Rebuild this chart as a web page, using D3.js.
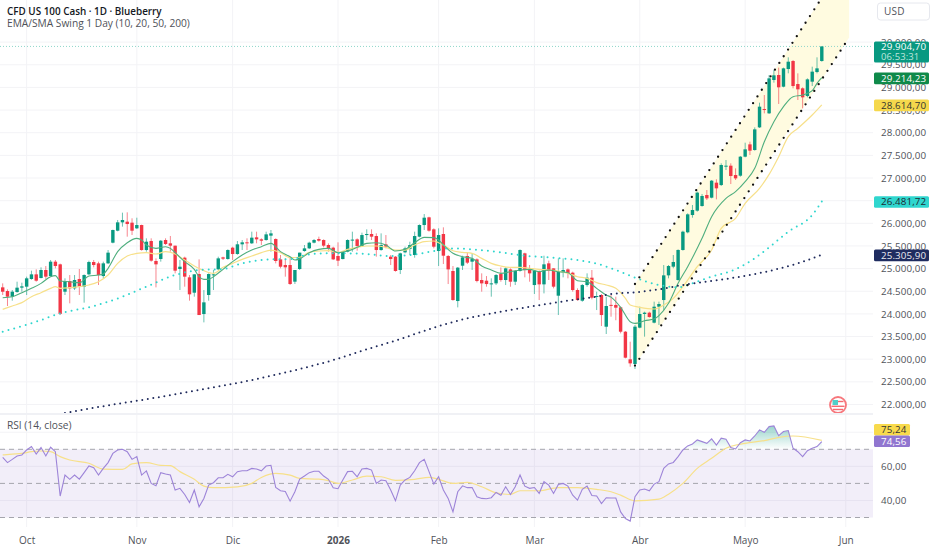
<!DOCTYPE html>
<html>
<head>
<meta charset="utf-8">
<script src="https://cdn.jsdelivr.net/npm/d3@7"></script>
<style>
  html, body { margin: 0; padding: 0; background: #fff; overflow: hidden; }
  svg { display: block; font-family: "Open Sans", sans-serif; }
</style>
</head>
<body>
<svg id="chart" width="932" height="550"></svg>
<script>
// [open, high, low, close] per daily bar
const candles = [
  [24586,24674,24417,24490],[24505,24542,24174,24380],[24380,24527,24292,24490],[24483,24711,24468,24579],
  [24579,24689,24490,24608],[24601,24822,24417,24785],[24770,24954,24755,24873],[24873,24983,24711,24733],
  [24792,25028,24785,24969],[24969,25057,24770,24822],[24836,25190,24822,25153],[25153,25190,25006,25057],
  [25094,25110,23975,24000],[24490,24785,24417,24726],[24726,24858,24233,24564],[24564,24858,24527,24748],
  [24770,24991,24417,24601],[24601,24873,24248,24858],[24873,25175,24858,25145],[25145,25190,25028,25079],
  [25116,25153,24638,24858],[24836,25153,24785,25116],[25116,25410,25101,25352],[25572,25860,25558,25852],
  [25837,26073,25823,26021],[26021,26235,25926,26073],[26036,26242,25705,25984],[26014,26110,25742,25837],
  [25889,26124,25874,25962],[25962,25970,25396,25410],[25410,25668,25374,25594],[25609,25668,25153,25175],
  [25168,25226,24586,25094],[25212,25631,25153,25616],[25631,25668,25521,25543],[25558,25720,25374,25506],
  [25506,25506,24895,24954],[24991,25190,24527,25042],[25241,25263,24601,24822],[24807,24858,24292,24432],
  [24468,24880,24380,24873],[24880,25204,23975,23975],[23997,24527,23813,24255],[24417,24895,24292,24880],
  [24858,24969,24527,24873],[24984,25263,24969,25226],[25248,25263,25190,25219],[25212,25425,25197,25410],
  [25462,25484,25190,25322],[25322,25609,25307,25536],[25536,25631,25410,25580],[25580,25668,25410,25558],
  [25558,25815,25543,25683],[25690,25815,25558,25646],[25646,25668,25521,25616],[25631,25815,25616,25756],
  [25727,25852,25374,25778],[25653,25668,25116,25168],[25204,25300,25006,25042],[25079,25226,24822,25028],
  [25079,25248,24638,24660],[24711,24969,24660,24969],[24991,25352,24969,25352],[25388,25521,25374,25447],
  [25447,25594,25433,25572],[25572,25653,25557,25631],[25653,25705,25594,25616],[25631,25646,25469,25506],
  [25521,25557,25373,25447],[25462,25484,25189,25204],[25278,25580,25057,25175],[25211,25388,25204,25373],
  [25373,25646,25359,25631],[25620,25815,25373,25640],[25646,25668,25395,25499],[25499,25793,25484,25741],
  [25741,25867,25631,25764],[25764,25867,25631,25705],[25719,25778,25263,25410],[25410,25778,25395,25521],
  [25535,25741,25447,25484],[25263,25300,25079,25211],[25263,25278,24932,24947],[24969,25351,24880,25337],
  [25359,25484,25337,25447],[25432,25594,25300,25521],[25300,25815,25241,25719],[25705,25977,25690,25962],
  [25962,26205,25852,26124],[26132,26146,25815,25837],[25867,25889,25447,25484],[25388,25889,25057,25741],
  [25764,25911,25101,25285],[25278,25300,24659,24983],[24947,25057,24291,24306],[24284,25035,24144,25021],
  [25064,25285,24969,25248],[25278,25351,25101,25131],[25153,25337,24969,25211],[25204,25226,24696,24726],
  [24748,24895,24490,24674],[24733,24836,24601,24659],[24659,24785,24380,24674],[24674,24880,24637,24858],
  [24880,25027,24711,24748],[24748,25027,24637,25005],[24983,25005,24600,24711],[24711,24969,24637,24947],
  [24947,25425,24932,25410],[25337,25351,24807,24969],[24969,25079,24711,24895],[24637,24969,24439,24954],
  [24947,24960,24306,24652],[24652,25285,24453,25094],[25116,25175,24748,24947],[25005,25005,24564,24601],
  [24402,25226,23975,24925],[24917,25226,24807,24969],[24983,25005,24785,24902],[24910,24932,24490,24527],
  [24527,24564,24291,24306],[24291,24659,24269,24637],[24637,24895,24600,24799],[24799,24969,24321,24358],
  [24380,24490,24085,24395],[24417,24439,23732,23975],[23717,24380,23556,24174],[24199,24417,23938,24185],
  [24197,24380,23860,24137],[24145,24160,23570,23607],[23607,23622,23018,23033],[22997,23386,22834,22908],
  [22894,23755,22783,23718],[23696,24160,23681,23998],[23998,24049,23497,24027],[24027,24049,23917,23931],
  [23806,24270,23791,24159],[24159,24270,23755,24218],[24306,25079,24085,24851],[24851,25079,24785,25057],
  [25043,25300,25006,25146],[24748,25425,24733,25411],[25411,25837,25396,25815],[25801,26220,25779,26198],
  [26183,26404,26124,26294],[26279,26699,26257,26677],[26382,26647,26367,26603],[26625,26735,26515,26551],
  [26566,26956,26551,26941],[26897,26971,26529,26772],[26845,27324,26823,27287],[27258,27397,27176,27272],
  [27272,27324,26867,27044],[27066,27213,26956,26992],[27051,27486,27029,27471],[27471,27780,27456,27633],
  [27743,27802,27508,27603],[27618,28118,27603,28074],[28118,28663,28104,28575],[28523,28832,28427,28501],
  [28428,29274,28413,29200],[29164,29384,29105,29267],[29274,29436,28634,29002],[29016,29436,29002,29421],
  [29406,29664,29311,29568],[29583,29605,28980,29031],[29075,29311,28722,28958],[28980,29002,28538,28781],
  [28810,29200,28781,29178],[29127,29458,29031,29348],[29340,29664,29311,29421],[29583,29905,29568,29905]
];

// [bar, value] samples of the moving averages
const ema10 = [[0,24358],[2,24380],[4,24468],[6,24564],[8,24674],[10,24822],[11,24844],[12,24726],[14,24711],[16,24689],[18,24836],[20,24858],[21,24880],[22,25006],[24,25374],[26,25572],[28,25668],[29,25631],[30,25521],[32,25447],[34,25484],[35,25447],[36,25352],[38,25153],[40,24984],[41,24822],[42,24763],[43,24763],[44,24822],[46,24984],[48,25153],[50,25300],[52,25410],[54,25484],[56,25558],[58,25374],[60,25263],[61,25190],[62,25215],[64,25351],[66,25425],[68,25447],[70,25351],[72,25388],[74,25469],[76,25557],[78,25572],[80,25521],[82,25388],[84,25425],[86,25572],[88,25690],[90,25683],[91,25631],[92,25521],[94,25337],[96,25263],[98,25226],[100,25057],[102,24969],[104,24895],[106,24932],[108,24969],[110,24983],[112,24932],[114,24969],[116,24932],[118,24910],[120,24733],[122,24711],[124,24564],[126,24417],[127,24370],[129,24145],[131,23828],[132,23791],[134,23850],[136,23887],[137,23961],[139,24233],[141,24675],[143,25043],[146,25668],[148,26147],[151,26551],[153,26699],[155,26919],[157,27213],[159,27802],[161,28244],[163,28575],[165,28796],[167,28832],[169,28928],[170,29090],[171,29214]];
const ema20 = [[0,24100],[2,24174],[4,24248],[6,24380],[8,24468],[10,24564],[11,24601],[12,24564],[14,24579],[16,24601],[18,24638],[20,24711],[22,24858],[24,25116],[26,25278],[28,25337],[30,25352],[32,25322],[34,25374],[36,25322],[38,25190],[40,25057],[42,24954],[44,24895],[46,25028],[48,25116],[50,25204],[52,25278],[54,25352],[56,25410],[58,25352],[60,25241],[62,25250],[64,25359],[66,25388],[68,25395],[70,25359],[72,25425],[74,25469],[76,25499],[78,25499],[80,25469],[82,25410],[84,25410],[86,25521],[88,25594],[90,25609],[91,25572],[92,25521],[94,25395],[96,25359],[98,25337],[100,25226],[102,25116],[104,25057],[106,25027],[108,25027],[110,25005],[112,24983],[114,24969],[116,24947],[118,24895],[120,24821],[122,24785],[124,24689],[126,24638],[128,24564],[130,24343],[131,24196],[133,24145],[136,24108],[138,24196],[140,24343],[142,24601],[145,25043],[148,25411],[150,25889],[153,26110],[155,26441],[158,26772],[160,27080],[162,27471],[164,27912],[166,28096],[169,28391],[171,28615]];
const ema50 = [[0,23607],[7,23828],[12,24012],[19,24174],[25,24380],[30,24601],[36,24858],[41,24969],[46,24991],[50,25116],[56,25204],[61,25212],[62,25263],[67,25337],[71,25337],[76,25322],[81,25278],[85,25300],[90,25388],[93,25447],[98,25425],[104,25359],[109,25285],[115,25241],[120,25189],[125,25079],[128,24969],[132,24800],[137,24638],[141,24586],[144,24675],[148,24822],[153,24984],[157,25227],[160,25470],[164,25815],[169,26183],[171,26482]];
const sma200 = [[13,21811],[20,21944],[29,22098],[41,22319],[52,22540],[62,22783],[69,22981],[76,23217],[83,23445],[90,23695],[97,23901],[104,24049],[111,24174],[118,24291],[124,24380],[127,24439],[132,24476],[137,24542],[142,24638],[147,24711],[154,24822],[160,24947],[166,25116],[171,25306]];

const rsi = [65.3,62.2,64.1,66.1,66.7,69.6,71.6,67.2,71,66.1,71.2,68.6,42.6,54.9,52.4,54.9,52.5,56.3,60.2,59.2,54.9,58.8,62.2,67.6,69.6,70,68.6,64.1,65.7,54.9,57.3,50,48.6,56.3,55.5,54.9,46.1,47.1,43.5,38.8,46.1,36.3,41.2,49,50.4,53.3,53.3,55.3,53.9,56.9,57.4,57.4,58.8,58.4,57.4,60.2,60.6,47.6,45.7,45.3,39.6,45.1,52.5,54.3,56.3,57.1,57.1,54.3,52.4,47.5,46.9,52,56.9,57.1,53.9,58.4,58.8,57.8,50,52,51.6,46.1,39.8,49,52,53.5,57.4,62.2,64.1,56.9,49.6,53.9,46.1,41.2,33.3,45.1,48.6,47.5,47.6,42.2,41.2,41,41.6,44.7,43.1,48,43.5,48,54.9,48.4,47.1,47.6,44.1,51,49,44.1,49.4,50,48.4,43.1,40.2,46.5,48.4,42.9,42.6,38.2,41.6,41.4,41.4,33.3,29.4,27.9,42.2,46.1,46.7,45.7,49.6,51,58.8,61.4,62.3,65.7,69.6,72,73.1,75.5,74.5,73.5,76.1,72.5,76.5,75.9,71,70.2,73.9,75.5,74.9,77.8,81.4,80,83.3,83.7,78,80.4,81,70.6,68.6,65.7,69.2,70.6,71.6,74.56];
const rsiMa = [[0,66.7],[2,67.2],[4,67.6],[6,68.6],[8,69],[10,68.6],[12,65.7],[14,63.7],[18,61.8],[21,58.4],[25,58.2],[27,61.4],[30,62.2],[33,60.6],[35,60.4],[37,56.9],[40,52.4],[42,48.4],[44,47.5],[49,48],[52,50],[54,53.5],[57,55.9],[60,54.9],[62,52.9],[66,52.5],[68,51.6],[70,50],[73,52],[76,54.3],[79,53.9],[82,51.8],[86,52.4],[89,53.5],[91,52.4],[94,50],[97,50.6],[100,48],[103,44.5],[106,43.5],[108,45.7],[112,45.7],[116,47.5],[120,47.5],[124,46.5],[127,45.1],[129,43.1],[132,39.8],[137,40.8],[139,43.7],[142,50],[145,58.8],[148,64.7],[151,70.6],[155,73.5],[159,75.1],[162,77],[165,77.8],[171,75.24]];

const priceTicks = [22000,22500,23000,23500,24000,24500,25000,25500,26000,26500,27000,27500,28000,28500,29000,29500,30000];
const rsiTicks = [40,60];
const rsiBand = [30,50,70];
const monthBars = [5,28,48,70,91,111,133,155,176];
const monthNames = ["Oct","Nov","Dic","2026","Feb","Mar","Abr","Mayo","Jun"];

// channel anchors: [bar, price]
const channelUpper = [[132,24660],[176.7,31900]];
const channelLower = [[132,22860],[176.7,30100]];

const paneRight = 873;
const mainBottom = 413;
const rsiTop = 416;
const rsiBottom = 527;

const fmt = d3.formatLocale({ decimal: ",", thousands: ".", grouping: [3], currency: ["", ""] }).format(",.2f");

const svg = d3.select("#chart");

const x = d3.scaleLinear().domain([0, 171]).range([2.7, 821.8]);
const y = d3.scaleLinear().domain([21812, 30930]).range([mainBottom, 0]);
const yRsi = d3.scaleLinear().domain([30, 70]).range([517.5, 449.3]);

const defs = svg.append("defs");
defs.append("clipPath").attr("id", "mainClip").append("rect")
  .attr("width", paneRight).attr("height", mainBottom);
defs.append("clipPath").attr("id", "rsiClip").append("rect")
  .attr("y", rsiTop).attr("width", paneRight).attr("height", rsiBottom - rsiTop);
defs.append("clipPath").attr("id", "obClip").append("rect")
  .attr("y", rsiTop).attr("width", paneRight).attr("height", yRsi(70) - rsiTop);
const grad = defs.append("linearGradient").attr("id", "obGrad")
  .attr("x1", 0).attr("x2", 0)
  .attr("gradientUnits", "userSpaceOnUse")
  .attr("y1", yRsi(84)).attr("y2", yRsi(70));
grad.append("stop").attr("offset", 0).attr("stop-color", "#089981").attr("stop-opacity", 0.42);
grad.append("stop").attr("offset", 1).attr("stop-color", "#089981").attr("stop-opacity", 0);

// grid
svg.append("g").selectAll("line").data(monthBars).join("line")
  .attr("x1", d => x(d)).attr("x2", d => x(d))
  .attr("y1", 0).attr("y2", rsiBottom)
  .attr("stroke", "#f3f3f6");
svg.append("g").selectAll("line").data(priceTicks).join("line")
  .attr("x1", 0).attr("x2", paneRight)
  .attr("y1", d => y(d)).attr("y2", d => y(d))
  .attr("stroke", "#f3f3f6");
svg.append("g").selectAll("line").data([40, 60, 80]).join("line")
  .attr("x1", 0).attr("x2", paneRight)
  .attr("y1", d => yRsi(d)).attr("y2", d => yRsi(d))
  .attr("stroke", "#f3f3f6");

// channel fill
const main = svg.append("g").attr("clip-path", "url(#mainClip)");
const chanLine = d3.line().x(d => x(d[0])).y(d => y(d[1]));
main.append("path")
  .attr("d", chanLine([channelUpper[0], channelUpper[1], channelLower[1], channelLower[0]]) + "Z")
  .attr("fill", "#fffbe0");

// last price line
main.append("line")
  .attr("x1", 0).attr("x2", paneRight)
  .attr("y1", y(29905)).attr("y2", y(29905))
  .attr("stroke", "#8fd6ca").attr("stroke-dasharray", "1 2");

// candles
const bars = main.append("g").selectAll("g").data(candles).join("g")
  .attr("transform", (d, i) => `translate(${x(i)},0)`);
bars.append("line")
  .attr("y1", d => y(d[1])).attr("y2", d => y(d[2]))
  .attr("stroke", d => d[3] >= d[0] ? "#089981" : "#f23645")
  .attr("stroke-opacity", 0.6);
bars.append("rect")
  .attr("x", -1.7).attr("width", 3.4)
  .attr("y", d => y(Math.max(d[0], d[3])))
  .attr("height", d => Math.max(1, Math.abs(y(d[0]) - y(d[3]))))
  .attr("fill", d => d[3] >= d[0] ? "#089981" : "#f23645");

// moving averages
const avgLine = d3.line().x(d => x(d[0])).y(d => y(d[1])).curve(d3.curveMonotoneX);
main.append("path").attr("d", avgLine(ema20)).attr("fill", "none")
  .attr("stroke", "#f7e08a").attr("stroke-width", 1.2);
main.append("path").attr("d", avgLine(ema10)).attr("fill", "none")
  .attr("stroke", "#4fae7e").attr("stroke-width", 1.1);
main.append("path").attr("d", avgLine(ema50)).attr("fill", "none")
  .attr("stroke", "#2fd6ce").attr("stroke-width", 2)
  .attr("stroke-linecap", "round").attr("stroke-dasharray", "0 6");
main.append("path").attr("d", avgLine(sma200)).attr("fill", "none")
  .attr("stroke", "#1f2a5c").attr("stroke-width", 2)
  .attr("stroke-linecap", "round").attr("stroke-dasharray", "0 5.6");

// channel borders
[channelUpper, channelLower].forEach(c => {
  main.append("path").attr("d", chanLine(c)).attr("fill", "none")
    .attr("stroke", "#111").attr("stroke-width", 2.3)
    .attr("stroke-linecap", "round").attr("stroke-dasharray", "0 8");
});

// economic event flag
const flag = svg.append("g").attr("transform", `translate(838,${y(22000) + 0.5})`);
flag.append("circle").attr("r", 8).attr("fill", "#fff").attr("stroke", "#f7777c").attr("stroke-width", 1.8);
flag.append("rect").attr("x", -5.5).attr("y", -5).attr("width", 5.5).attr("height", 5).attr("fill", "#4fd0c8");
flag.append("rect").attr("x", 0).attr("y", -4.2).attr("width", 5.5).attr("height", 1.4).attr("fill", "#f56a70");
flag.append("rect").attr("x", -6.5).attr("y", 0.6).attr("width", 13).attr("height", 1.4).attr("fill", "#f56a70");
flag.append("rect").attr("x", -5).attr("y", 3.8).attr("width", 10).attr("height", 1.4).attr("fill", "#f56a70");

// pane separator
svg.append("rect").attr("x", 0).attr("y", mainBottom).attr("width", paneRight).attr("height", 2).attr("fill", "#f0f1f5");

// RSI pane
const rsiPane = svg.append("g").attr("clip-path", "url(#rsiClip)");
rsiPane.append("rect")
  .attr("x", 0).attr("width", paneRight)
  .attr("y", yRsi(70)).attr("height", yRsi(30) - yRsi(70))
  .attr("fill", "#7e57c2").attr("fill-opacity", 0.1);
rsiPane.append("g").selectAll("line").data(rsiBand).join("line")
  .attr("x1", 0).attr("x2", paneRight)
  .attr("y1", d => yRsi(d)).attr("y2", d => yRsi(d))
  .attr("stroke", "#a5a5ad").attr("stroke-dasharray", "5 4");

const rsiPts = rsi.map((v, i) => [i, v]);
rsiPane.append("path").attr("clip-path", "url(#obClip)")
  .attr("d", d3.area().x(d => x(d[0])).y0(yRsi(70)).y1(d => yRsi(d[1]))(rsiPts))
  .attr("fill", "url(#obGrad)");
rsiPane.append("path")
  .attr("d", d3.line().x(d => x(d[0])).y(d => yRsi(d[1])).curve(d3.curveMonotoneX)(rsiMa))
  .attr("fill", "none").attr("stroke", "#f7e08a").attr("stroke-width", 1.2);
rsiPane.append("path")
  .attr("d", d3.line().x(d => x(d[0])).y(d => yRsi(d[1]))(rsiPts))
  .attr("fill", "none").attr("stroke", "#9d84d8").attr("stroke-width", 1.1);

// axes
const priceAxis = svg.append("g")
  .attr("transform", `translate(${paneRight},0)`)
  .call(d3.axisRight(y).tickValues(priceTicks).tickSize(0).tickPadding(8).tickFormat(fmt))
  .call(g => g.select(".domain").remove());
const rsiAxis = svg.append("g")
  .attr("transform", `translate(${paneRight},0)`)
  .call(d3.axisRight(yRsi).tickValues(rsiTicks).tickSize(0).tickPadding(8).tickFormat(fmt))
  .call(g => g.select(".domain").remove());
[priceAxis, rsiAxis].forEach(g => g.selectAll("text")
  .attr("font-size", 9.8).attr("font-family", "Open Sans").attr("fill", "#4f5259")
  .attr("letter-spacing", 0.1));

const timeAxis = svg.append("g")
  .attr("transform", "translate(0,533)")
  .call(d3.axisBottom(x).tickValues(monthBars).tickSize(0).tickPadding(4).tickFormat((d, i) => monthNames[i]))
  .call(g => g.select(".domain").remove());
timeAxis.selectAll("text")
  .attr("font-size", 10).attr("font-family", "Open Sans").attr("fill", "#4f5259")
  .attr("font-weight", (d, i) => monthNames[i] === "2026" ? 700 : 400);

// price labels on the right scale
const valueLabels = [
  { text: "29.214,23", v: 29214, bg: "#0f8a4a", fg: "#fff" },
  { text: "28.614,70", v: 28615, bg: "#f5d84c", fg: "#33352f" },
  { text: "26.481,72", v: 26482, bg: "#2fd6ce", fg: "#1f2a33" },
  { text: "25.305,90", v: 25306, bg: "#1f2c60", fg: "#e8e8f0" }
];
valueLabels.forEach(l => {
  const cy = y(l.v) + 0.7;
  svg.append("rect").attr("x", 874).attr("y", cy - 6).attr("width", 55).attr("height", 11.7).attr("rx", 1.5).attr("fill", l.bg);
  svg.append("text").attr("x", 881).attr("y", cy + 3.2).attr("font-size", 9.8).attr("letter-spacing", 0.1).attr("fill", l.fg).text(l.text);
});

svg.append("rect").attr("x", 874).attr("y", 41.5).attr("width", 55).attr("height", 21).attr("rx", 1.5).attr("fill", "#089981");
svg.append("text").attr("x", 881).attr("y", 50).attr("font-size", 9.8).attr("letter-spacing", 0.1).attr("fill", "#fff").text("29.904,70");
svg.append("text").attr("x", 881).attr("y", 59.5).attr("font-size", 9.5).attr("letter-spacing", 0.1).attr("fill", "#bfe6dd").text("06:53:31");

svg.append("rect").attr("x", 874).attr("y", 424).attr("width", 36).attr("height", 11.5).attr("rx", 1.5).attr("fill", "#f8da4c");
svg.append("text").attr("x", 881).attr("y", 433).attr("font-size", 9.8).attr("letter-spacing", 0.1).attr("fill", "#333").text("75,24");
svg.append("rect").attr("x", 874).attr("y", 435.5).attr("width", 36).attr("height", 11.5).attr("rx", 1.5).attr("fill", "#9176d0");
svg.append("text").attr("x", 881).attr("y", 444.6).attr("font-size", 9.8).attr("letter-spacing", 0.1).attr("fill", "#fff").text("74,56");

svg.append("rect").attr("x", 877.5).attr("y", 3).attr("width", 52).attr("height", 17).attr("rx", 3).attr("fill", "#fff").attr("stroke", "#e6e8ee");
svg.append("text").attr("x", 884).attr("y", 15).attr("font-size", 10).attr("letter-spacing", 0.3).attr("fill", "#50535a").text("USD");

// titles
svg.append("text").attr("x", 7).attr("y", 15).attr("font-size", 9.9).attr("font-weight", 600).attr("fill", "#131722").text("CFD US 100 Cash · 1D · Blueberry");
svg.append("text").attr("x", 7).attr("y", 26.5).attr("font-size", 10.2).attr("fill", "#4f5259").text("EMA/SMA Swing 1 Day (10, 20, 50, 200)");
svg.append("text").attr("x", 7).attr("y", 429).attr("font-size", 10.2).attr("fill", "#4f5259").text("RSI (14, close)");
</script>
</body>
</html>
